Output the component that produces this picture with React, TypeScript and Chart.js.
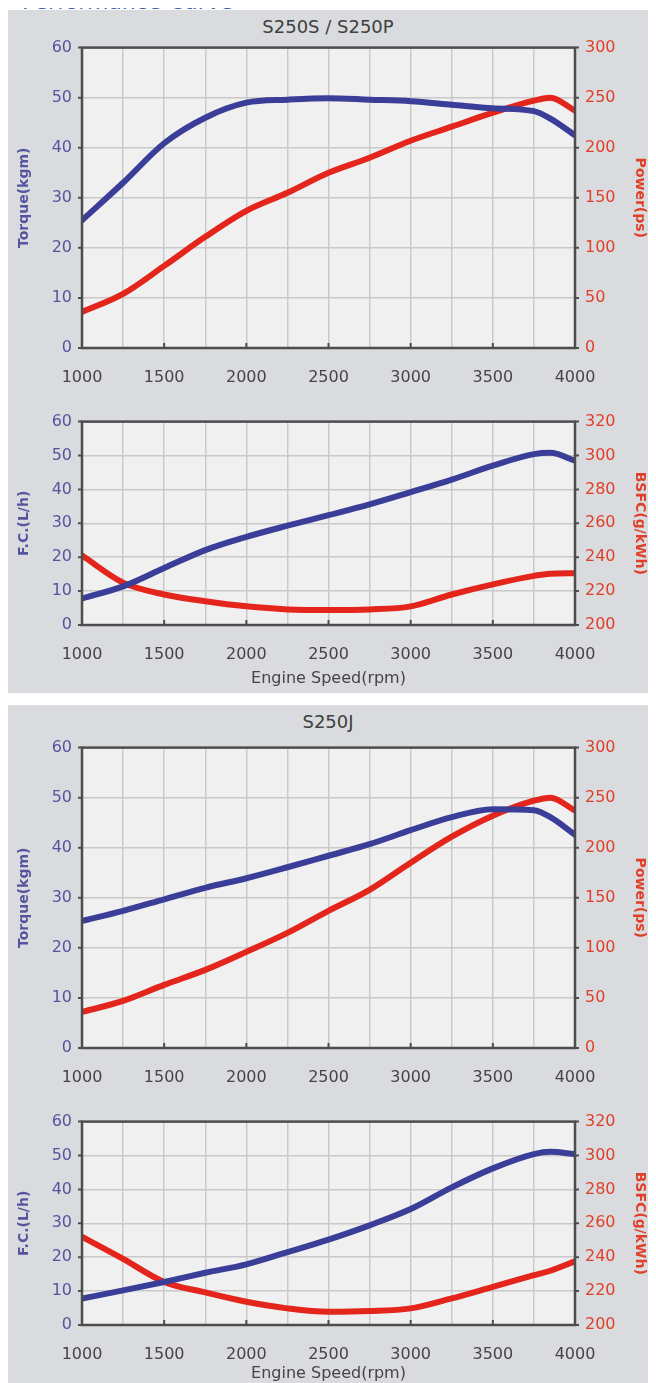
import React, { useEffect, useRef } from 'react';
import { Chart, registerables } from 'chart.js';

Chart.register(...registerables);

// ---------- data ----------
const rpm = [1000, 1250, 1500, 1750, 2000, 2250, 2500, 2750, 3000, 3250, 3500, 3750, 3850, 4000];
const xLabelValues = [1000, 1500, 2000, 2500, 3000, 3500, 4000];

const s250sTorque = [25.5, 33, 40.9, 46, 49, 49.6, 49.9, 49.6, 49.3, 48.6, 47.9, 47.3, 45.8, 42.5];
const s250sPower = [36, 54, 82, 111, 137, 155, 175, 190, 207, 221, 235, 247, 250, 237];
const s250sFC = [7.8, 11.4, 16.8, 22.1, 26, 29.3, 32.4, 35.6, 39.2, 42.9, 47, 50.4, 50.8, 48.5];
const s250sBSFC = [241, 225, 218, 214, 211, 209.2, 208.8, 209.2, 211, 218, 224, 229, 230.3, 230.6];

const s250jTorque = [25.4, 27.4, 29.7, 32, 33.9, 36.1, 38.4, 40.7, 43.5, 46.1, 47.7, 47.5, 46.1, 42.6];
const s250jPower = [36, 47, 63, 78, 96, 115, 137, 158, 185, 211, 232, 247, 250, 237];
const s250jFC = [7.8, 10.2, 12.7, 15.4, 17.9, 21.5, 25.2, 29.4, 34.2, 40.6, 46.2, 50.4, 51.1, 50.4];
const s250jBSFC = [252, 239, 225.4, 219.2, 213.7, 209.8, 207.8, 208.2, 209.8, 215.7, 222.5, 229.4, 232, 237.6];

// ---------- style ----------
const FONT = '"DejaVu Sans", Lato, sans-serif';
const BLUE = '#3b3e98';
const RED = '#e4251c';
const BLUE_TXT = '#55559f';
const RED_TXT = '#e0402a';
const GREY_TXT = '#454545';
const GRID = '#c9c9c9';
const PLOT_BG = '#f0f0f0';
const FRAME = '#4d4d4d';
const PANEL_BG = '#d9dbde';

const framePlugin = {
  id: 'frame',
  beforeDraw(chart: any) {
    const { ctx, chartArea: a } = chart;
    ctx.save();
    ctx.fillStyle = PLOT_BG;
    ctx.fillRect(a.left, a.top, a.right - a.left, a.bottom - a.top);
    ctx.restore();
  },
  afterDatasetsDraw(chart: any) {
    const { ctx, chartArea: a, scales } = chart;
    ctx.save();
    ctx.strokeStyle = FRAME;
    ctx.lineWidth = 2.5;
    ctx.strokeRect(a.left, a.top, a.right - a.left, a.bottom - a.top);
    ctx.lineWidth = 2;
    ctx.beginPath();
    for (const v of xLabelValues) {
      const px = scales.x.getPixelForValue(v);
      ctx.moveTo(px, a.bottom);
      ctx.lineTo(px, a.bottom - 5);
    }
    for (const t of scales.yL.ticks) {
      const py = scales.yL.getPixelForValue(t.value);
      ctx.moveTo(a.left - 4, py);
      ctx.lineTo(a.left, py);
    }
    for (const t of scales.yR.ticks) {
      const py = scales.yR.getPixelForValue(t.value);
      ctx.moveTo(a.right, py);
      ctx.lineTo(a.right + 4, py);
    }
    ctx.stroke();
    ctx.restore();
  },
};

type Props = {
  top: number;
  height: number;
  xAxisH: number;
  left: number[];
  right: number[];
  leftTitle: string;
  rightTitle: string;
  rightMin: number;
  rightMax: number;
  rightStep: number;
  xTitle?: string;
};

function PerfChart(p: Props) {
  const ref = useRef<HTMLCanvasElement>(null);
  useEffect(() => {
    const chart = new Chart(ref.current as HTMLCanvasElement, {
      type: 'line',
      data: {
        datasets: [
          {
            data: rpm.map((x, i) => ({ x, y: p.left[i] })),
            yAxisID: 'yL',
            borderColor: BLUE,
            borderWidth: 6,
            pointRadius: 0,
            cubicInterpolationMode: 'monotone',
            borderCapStyle: 'round',
          },
          {
            data: rpm.map((x, i) => ({ x, y: p.right[i] })),
            yAxisID: 'yR',
            borderColor: RED,
            borderWidth: 6,
            pointRadius: 0,
            cubicInterpolationMode: 'monotone',
            borderCapStyle: 'round',
          },
        ],
      },
      options: {
        animation: false,
        responsive: false,
        events: [],
        layout: { padding: 0 },
        plugins: { legend: { display: false }, tooltip: { enabled: false }, title: { display: false } },
        scales: {
          x: {
            type: 'linear',
            min: 1000,
            max: 4000,
            afterFit: (s: any) => { s.height = p.xAxisH; },
            ticks: {
              stepSize: 250,
              autoSkip: false,
              maxRotation: 0,
              padding: 20,
              color: GREY_TXT,
              font: { family: FONT, size: 16 },
              callback: (v: any) => (xLabelValues.includes(Number(v)) ? String(v) : ''),
            },
            grid: { color: GRID, lineWidth: 1.5, drawTicks: false },
            border: { display: false },
            title: p.xTitle
              ? { display: true, text: p.xTitle, color: GREY_TXT, font: { family: FONT, size: 16 }, padding: { top: 0, bottom: 5 } }
              : { display: false },
          },
          yL: {
            type: 'linear',
            position: 'left',
            min: 0,
            max: 60,
            afterFit: (s: any) => { s.width = 74; },
            ticks: { stepSize: 10, padding: 10, color: BLUE_TXT, font: { family: FONT, size: 16 } },
            grid: { color: GRID, lineWidth: 1.5, drawTicks: false },
            border: { display: false },
            title: { display: true, text: p.leftTitle, color: BLUE_TXT, font: { family: FONT, size: 14, weight: 'bold' }, padding: { top: 8, bottom: 0 } },
          },
          yR: {
            type: 'linear',
            position: 'right',
            min: p.rightMin,
            max: p.rightMax,
            afterFit: (s: any) => { s.width = 73; },
            ticks: { stepSize: p.rightStep, padding: 10, color: RED_TXT, font: { family: FONT, size: 16 } },
            grid: { drawOnChartArea: false, drawTicks: false },
            border: { display: false },
            title: { display: true, text: p.rightTitle, color: RED_TXT, font: { family: FONT, size: 14, weight: 'bold' }, padding: { top: 0, bottom: 0 } },
          },
        },
      } as any,
      plugins: [framePlugin],
    });
    return () => chart.destroy();
  }, []);
  return (
    <canvas
      ref={ref}
      width={640}
      height={p.height}
      style={{ position: 'absolute', left: 0, top: p.top, width: 640, height: p.height }}
    />
  );
}

function Panel(props: {
  title: string;
  torque: number[];
  power: number[];
  fc: number[];
  bsfc: number[];
  marginTop: number;
  shift: number;
}) {
  const s = props.shift;
  return (
    <div style={{ position: 'relative', width: 640, height: 683, background: PANEL_BG, marginTop: props.marginTop }}>
      <div
        style={{
          position: 'absolute', top: 6, left: 0, width: 640, textAlign: 'center',
          fontFamily: FONT, fontSize: 18, color: '#404040', lineHeight: '22px',
        }}
      >
        {props.title}
      </div>
      <PerfChart
        top={18 + s} height={367} xAxisH={47}
        left={props.torque} right={props.power}
        leftTitle="Torque(kgm)" rightTitle="Power(ps)"
        rightMin={0} rightMax={300} rightStep={50}
      />
      <PerfChart
        top={392 + s} height={291 - s} xAxisH={68 - s}
        left={props.fc} right={props.bsfc}
        leftTitle="F.C.(L/h)" rightTitle="BSFC(g/kWh)"
        rightMin={200} rightMax={320} rightStep={20}
        xTitle="Engine Speed(rpm)"
      />
    </div>
  );
}

export default function App() {
  return (
    <div style={{ width: 640, fontFamily: FONT }}>
      <div style={{ position: 'relative', height: 2, zIndex: 3 }}>
        <div
          style={{
            position: 'absolute', top: -19, left: 14, fontSize: 22, lineHeight: '26px', color: '#3f62a8',
            fontFamily: FONT, whiteSpace: 'nowrap',
          }}
        >
          Performance Curve
        </div>
      </div>
      <Panel title="S250S / S250P" torque={s250sTorque} power={s250sPower} fc={s250sFC} bsfc={s250sBSFC} marginTop={0} shift={0} />
      <Panel title="S250J" torque={s250jTorque} power={s250jPower} fc={s250jFC} bsfc={s250jBSFC} marginTop={12} shift={5} />
    </div>
  );
}
